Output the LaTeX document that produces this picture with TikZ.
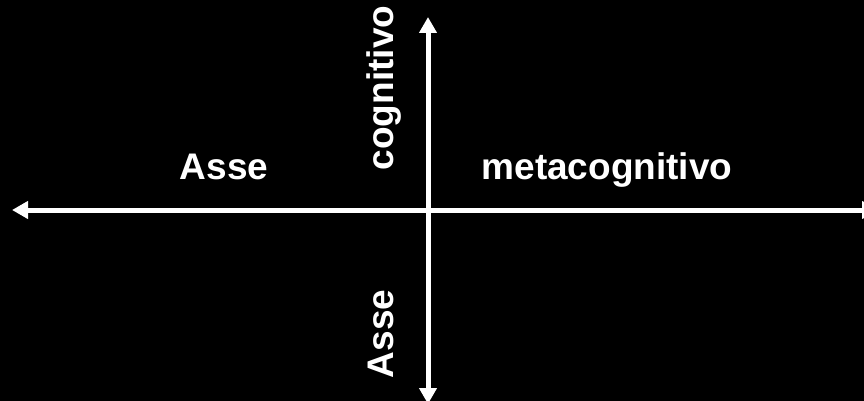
\documentclass[tikz,border=0pt]{standalone}
\usepackage{fontspec}
\setmainfont{Liberation Sans}
\usetikzlibrary{arrows.meta}
\begin{document}
\begin{tikzpicture}[x=1pt,y=-1pt,
  axis/.style={draw=white,line width=5pt,{Triangle[length=16pt,width=17pt]}-{Triangle[length=16pt,width=17pt]}},
  lbl/.style={text=white,font=\bfseries\fontsize{37}{40}\selectfont,inner sep=0pt,anchor=base}]
\fill[black] (0,0) rectangle (864,401);
\useasboundingbox (0,0) rectangle (864,401);
\coordinate (L) at (12,210);
\coordinate (R) at (878,210);
\coordinate (T) at (428,17);
\coordinate (B) at (428,404);
\draw[axis] (L) -- (R);
\draw[axis] (T) -- (B);
\node[lbl] (a1) at (224,179) {Asse};
\node[lbl] (m) at (607,179) {metacognitivo};
\node[lbl,rotate=90] (c) at (393,88) {cognitivo};
\node[lbl,rotate=90] (a2) at (393,334) {Asse};
\end{tikzpicture}
\end{document}
